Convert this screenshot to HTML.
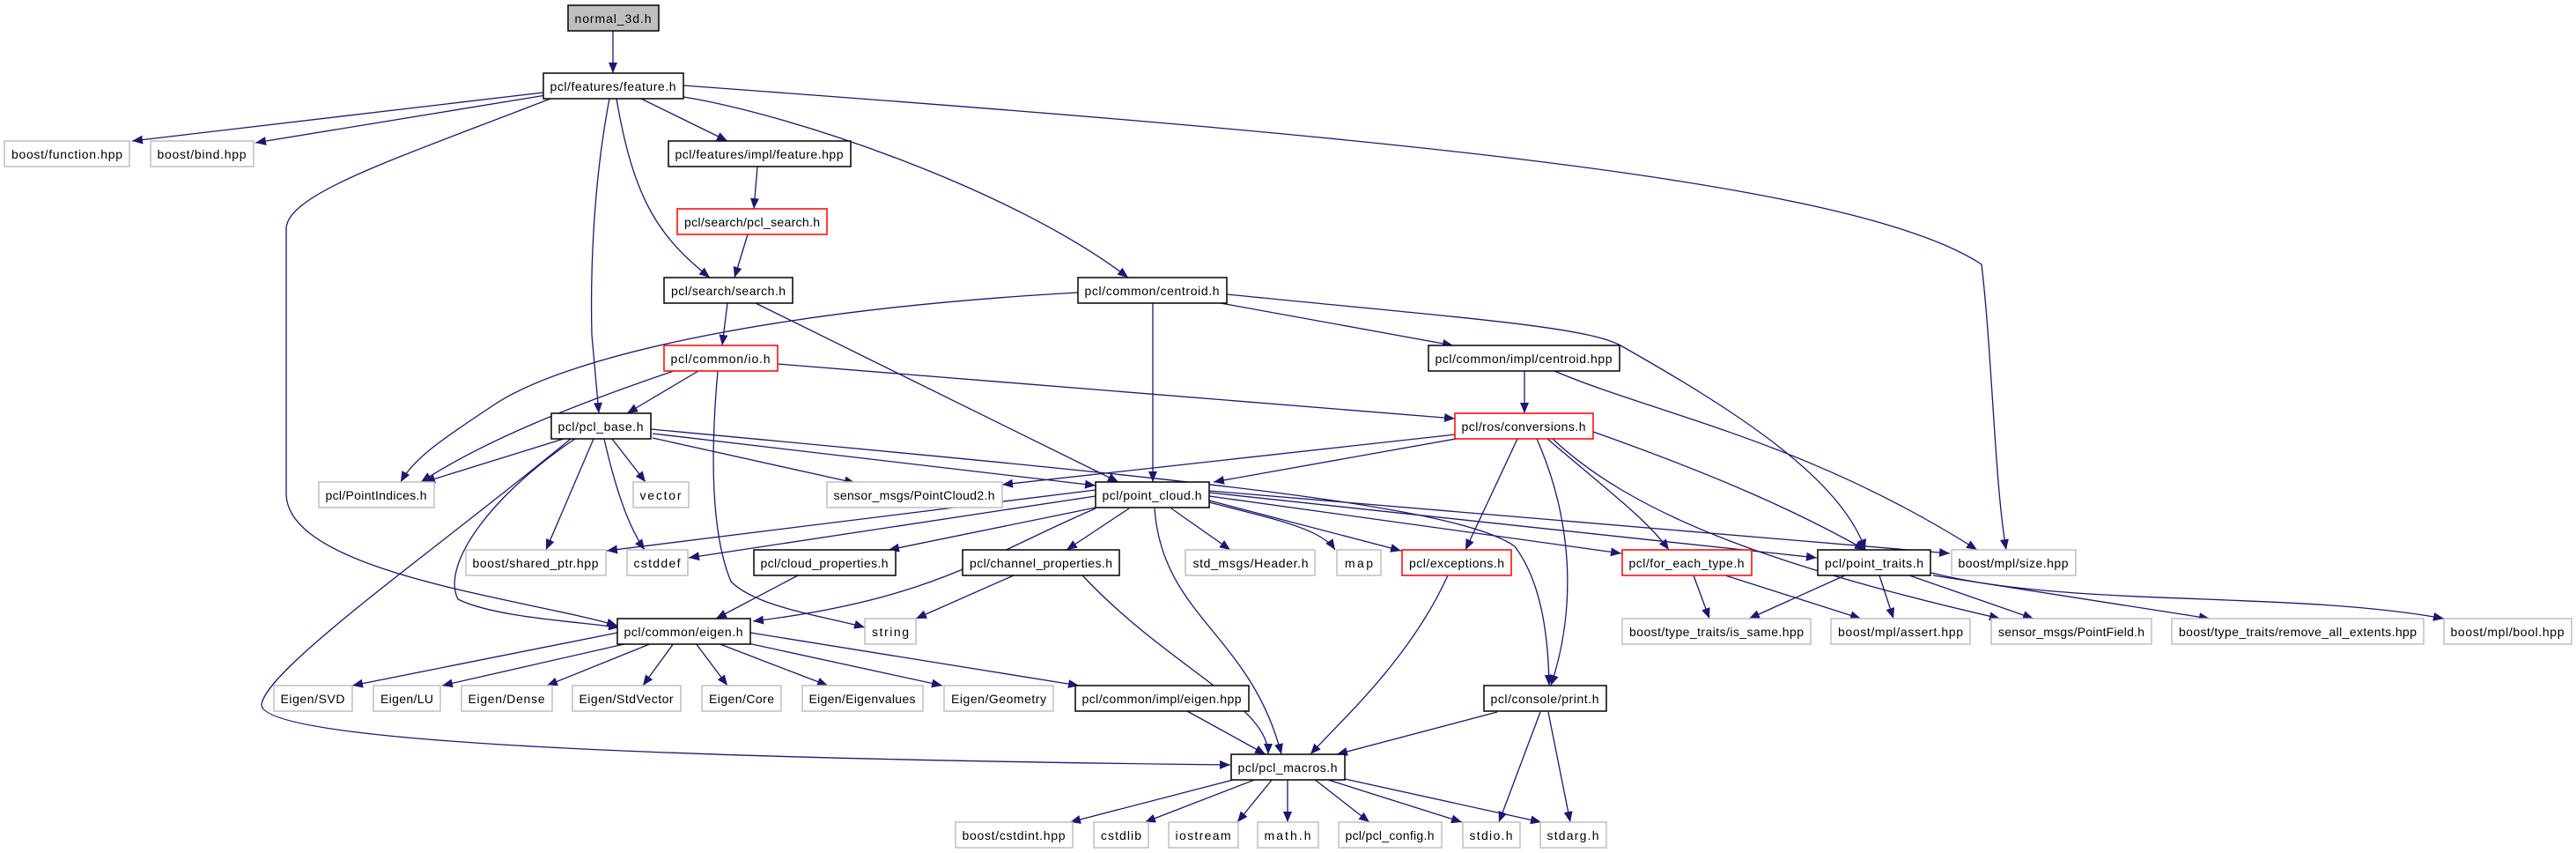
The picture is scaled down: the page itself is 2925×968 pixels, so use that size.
<!DOCTYPE html>
<html><head><meta charset="utf-8"><style>
html,body{margin:0;padding:0;background:#fff;}
svg{display:block;}
text{font-family:"Liberation Sans",sans-serif;font-size:14px;fill:#000;text-anchor:middle;}
.b{fill:#fff;stroke:#000;stroke-width:1.5}
.g{fill:#fff;stroke:#bfbfbf;stroke-width:1.5}
.r{fill:#fff;stroke:#ff0000;stroke-width:1.5}
.e{fill:none;stroke:#191970;stroke-width:1.3;marker-end:url(#a)}
</style></head><body>
<svg width="2925" height="968" viewBox="0 0 2925 968" xmlns="http://www.w3.org/2000/svg">
<defs><marker id="a" markerUnits="userSpaceOnUse" markerWidth="14" markerHeight="12" refX="12" refY="5" orient="auto"><path d="M0,0 L12,5 L0,10 z" fill="#191970"/></marker></defs>
<g>
<path class="e" d="M696 35 L696 83"/>
<path class="e" d="M617 105 L150 160"/>
<path class="e" d="M620 108 L290 162"/>
<path class="e" d="M625 112 C450 180,325 220,325 260 L325 560 C325 650,600 680,701 710"/>
<path class="e" d="M692 112 C675 200,670 300,672 380 L680 469"/>
<path class="e" d="M700 112 C720 230,750 270,806 315"/>
<path class="e" d="M728 112 L826 160"/>
<path class="e" d="M776 110 C900 130,1150 215,1281 315"/>
<path class="e" d="M776 97 C1500 150,2100 200,2250 300 C2262 400,2265 550,2278 624"/>
<path class="e" d="M860 189 L856 237"/>
<path class="e" d="M849 266 L834 315"/>
<path class="e" d="M826 344 L820 392"/>
<path class="e" d="M858 344 L1270 547"/>
<path class="e" d="M1224 332 C900 350,650 400,560 460 C500 500,470 520,455 547"/>
<path class="e" d="M1309 344 L1309 547"/>
<path class="e" d="M1386 344 L1650 392"/>
<path class="e" d="M1393 334 C1650 360,1800 370,1840 392 C1960 460,2090 540,2118 624"/>
<path class="e" d="M765 421 C650 460,550 500,478 547"/>
<path class="e" d="M793 421 L712 469"/>
<path class="e" d="M815 421 C808 500,805 600,830 660 C860 690,940 700,982 712"/>
<path class="e" d="M883 413 L1652 475"/>
<path class="e" d="M1731 421 L1731 469"/>
<path class="e" d="M1765 421 C1880 470,2050 500,2245 624"/>
<path class="e" d="M640 498 L482 547"/>
<path class="e" d="M695 498 L733 547"/>
<path class="e" d="M686 498 C700 560,715 600,732 624"/>
<path class="e" d="M674 498 L620 624"/>
<path class="e" d="M653 498 C560 560,500 640,520 680 C560 700,650 705,703 712"/>
<path class="e" d="M648 498 C500 620,300 760,297 800 C300 840,700 860,1397 868"/>
<path class="e" d="M741 497 L971 548"/>
<path class="e" d="M741 492 L1244 551"/>
<path class="e" d="M739 487 C1300 540,1650 570,1720 620 C1750 660,1758 720,1759 778"/>
<path class="e" d="M1653 493 L1138 550"/>
<path class="e" d="M1653 498 L1378 547"/>
<path class="e" d="M1723 498 L1664 624"/>
<path class="e" d="M1745 498 C1790 600,1787 700,1761 778"/>
<path class="e" d="M1757 498 C1830 560,1870 590,1895 624"/>
<path class="e" d="M1763 498 C1850 580,2000 640,2271 702"/>
<path class="e" d="M1809 490 C1950 540,2040 580,2118 624"/>
<path class="e" d="M1244 556 L689 625"/>
<path class="e" d="M1244 563 L782 633"/>
<path class="e" d="M1244 576 L1009 624"/>
<path class="e" d="M1244 577 C1120 630,1060 680,855 705"/>
<path class="e" d="M1282 577 L1211 624"/>
<path class="e" d="M1330 577 L1397 624"/>
<path class="e" d="M1311 577 C1320 700,1420 720,1455 856"/>
<path class="e" d="M1229 653 C1330 760,1440 800,1440 856"/>
<path class="e" d="M1373 570 C1450 590,1500 600,1516 624"/>
<path class="e" d="M1373 568 L1591 625"/>
<path class="e" d="M1373 563 L1841 628"/>
<path class="e" d="M1373 559 L2063 633"/>
<path class="e" d="M1373 557 L2214 628"/>
<path class="e" d="M906 653 L813 702"/>
<path class="e" d="M1151 653 L1040 702"/>
<path class="e" d="M701 718 L400 778"/>
<path class="e" d="M713 730 L502 778"/>
<path class="e" d="M740 730 L621 778"/>
<path class="e" d="M765 730 L730 778"/>
<path class="e" d="M790 730 L826 778"/>
<path class="e" d="M815 730 L940 778"/>
<path class="e" d="M840 728 L1070 778"/>
<path class="e" d="M852 718 L1225 778"/>
<path class="e" d="M1348 807 L1437 856"/>
<path class="e" d="M1644 653 C1600 750,1520 820,1488 856"/>
<path class="e" d="M1700 808 L1518 856"/>
<path class="e" d="M1749 808 L1702 933"/>
<path class="e" d="M1758 808 L1783 933"/>
<path class="e" d="M1923 653 L1941 702"/>
<path class="e" d="M1959 653 L2113 702"/>
<path class="e" d="M2095 653 L1986 702"/>
<path class="e" d="M2134 653 L2150 702"/>
<path class="e" d="M2168 653 L2309 702"/>
<path class="e" d="M2195 653 L2509 702"/>
<path class="e" d="M2193 650 C2350 690,2600 670,2775 702"/>
<path class="e" d="M1404 884 L1215 933"/>
<path class="e" d="M1427 884 L1300 933"/>
<path class="e" d="M1445 884 L1405 933"/>
<path class="e" d="M1462 884 L1462 933"/>
<path class="e" d="M1492 884 L1555 933"/>
<path class="e" d="M1505 884 L1660 933"/>
<path class="e" d="M1527 884 L1750 933"/>
</g>
<g>
<rect x="645" y="6" width="103" height="29" fill="#bfbfbf" stroke="#000" stroke-width="1.5"/><text x="696" y="26" textLength="87">normal_3d.h</text>
<rect class="b" x="617" y="83" width="159" height="29"/><text x="696" y="103" textLength="143">pcl/features/feature.h</text>
<rect class="g" x="5" y="160" width="142" height="29"/><text x="76" y="180" textLength="126">boost/function.hpp</text>
<rect class="g" x="171" y="160" width="117" height="29"/><text x="229" y="180" textLength="101">boost/bind.hpp</text>
<rect class="b" x="759" y="160" width="207" height="29"/><text x="862" y="180" textLength="191">pcl/features/impl/feature.hpp</text>
<rect class="r" x="769" y="237" width="170" height="29"/><text x="854" y="257" textLength="154">pcl/search/pcl_search.h</text>
<rect class="b" x="754" y="315" width="146" height="29"/><text x="827" y="335" textLength="130">pcl/search/search.h</text>
<rect class="b" x="1224" y="315" width="169" height="29"/><text x="1308" y="335" textLength="153">pcl/common/centroid.h</text>
<rect class="r" x="754" y="392" width="129" height="29"/><text x="818" y="412" textLength="113">pcl/common/io.h</text>
<rect class="b" x="1622" y="392" width="217" height="29"/><text x="1730" y="412" textLength="201">pcl/common/impl/centroid.hpp</text>
<rect class="b" x="626" y="469" width="113" height="29"/><text x="682" y="489" textLength="97">pcl/pcl_base.h</text>
<rect class="r" x="1652" y="469" width="157" height="29"/><text x="1730" y="489" textLength="141">pcl/ros/conversions.h</text>
<rect class="g" x="362" y="547" width="131" height="29"/><text x="427" y="567" textLength="115">pcl/PointIndices.h</text>
<rect class="g" x="719" y="547" width="63" height="29"/><text x="750" y="567" textLength="47">vector</text>
<rect class="g" x="939" y="547" width="199" height="29"/><text x="1038" y="567" textLength="183">sensor_msgs/PointCloud2.h</text>
<rect class="b" x="1244" y="547" width="129" height="29"/><text x="1308" y="567" textLength="113">pcl/point_cloud.h</text>
<rect class="g" x="529" y="624" width="159" height="29"/><text x="608" y="644" textLength="143">boost/shared_ptr.hpp</text>
<rect class="g" x="712" y="624" width="69" height="29"/><text x="746" y="644" textLength="53">cstddef</text>
<rect class="b" x="856" y="624" width="161" height="29"/><text x="936" y="644" textLength="145">pcl/cloud_properties.h</text>
<rect class="b" x="1093" y="624" width="178" height="29"/><text x="1182" y="644" textLength="162">pcl/channel_properties.h</text>
<rect class="g" x="1346" y="624" width="147" height="29"/><text x="1420" y="644" textLength="131">std_msgs/Header.h</text>
<rect class="g" x="1518" y="624" width="50" height="29"/><text x="1543" y="644" textLength="32">map</text>
<rect class="r" x="1592" y="624" width="124" height="29"/><text x="1654" y="644" textLength="108">pcl/exceptions.h</text>
<rect class="r" x="1842" y="624" width="147" height="29"/><text x="1915" y="644" textLength="131">pcl/for_each_type.h</text>
<rect class="b" x="2064" y="624" width="128" height="29"/><text x="2128" y="644" textLength="112">pcl/point_traits.h</text>
<rect class="g" x="2216" y="624" width="141" height="29"/><text x="2286" y="644" textLength="125">boost/mpl/size.hpp</text>
<rect class="b" x="701" y="702" width="151" height="29"/><text x="776" y="722" textLength="135">pcl/common/eigen.h</text>
<rect class="g" x="982" y="702" width="58" height="29"/><text x="1011" y="722" textLength="42">string</text>
<rect class="g" x="1842" y="702" width="214" height="29"/><text x="1949" y="722" textLength="198">boost/type_traits/is_same.hpp</text>
<rect class="g" x="2079" y="702" width="158" height="29"/><text x="2158" y="722" textLength="142">boost/mpl/assert.hpp</text>
<rect class="g" x="2261" y="702" width="182" height="29"/><text x="2352" y="722" textLength="166">sensor_msgs/PointField.h</text>
<rect class="g" x="2466" y="702" width="286" height="29"/><text x="2609" y="722" textLength="270">boost/type_traits/remove_all_extents.hpp</text>
<rect class="g" x="2775" y="702" width="145" height="29"/><text x="2847" y="722" textLength="129">boost/mpl/bool.hpp</text>
<rect class="g" x="311" y="778" width="89" height="29"/><text x="355" y="798" textLength="73">Eigen/SVD</text>
<rect class="g" x="424" y="778" width="76" height="29"/><text x="462" y="798" textLength="60">Eigen/LU</text>
<rect class="g" x="524" y="778" width="103" height="29"/><text x="575" y="798" textLength="87">Eigen/Dense</text>
<rect class="g" x="650" y="778" width="123" height="29"/><text x="711" y="798" textLength="107">Eigen/StdVector</text>
<rect class="g" x="797" y="778" width="90" height="29"/><text x="842" y="798" textLength="74">Eigen/Core</text>
<rect class="g" x="911" y="778" width="137" height="29"/><text x="979" y="798" textLength="121">Eigen/Eigenvalues</text>
<rect class="g" x="1072" y="778" width="124" height="29"/><text x="1134" y="798" textLength="108">Eigen/Geometry</text>
<rect class="b" x="1221" y="778" width="197" height="29"/><text x="1319" y="798" textLength="181">pcl/common/impl/eigen.hpp</text>
<rect class="b" x="1685" y="778" width="139" height="29"/><text x="1754" y="798" textLength="123">pcl/console/print.h</text>
<rect class="b" x="1398" y="856" width="129" height="29"/><text x="1462" y="876" textLength="113">pcl/pcl_macros.h</text>
<rect class="g" x="1085" y="933" width="133" height="29"/><text x="1151" y="953" textLength="117">boost/cstdint.hpp</text>
<rect class="g" x="1242" y="933" width="62" height="29"/><text x="1273" y="953" textLength="46">cstdlib</text>
<rect class="g" x="1327" y="933" width="79" height="29"/><text x="1366" y="953" textLength="63">iostream</text>
<rect class="g" x="1428" y="933" width="69" height="29"/><text x="1462" y="953" textLength="53">math.h</text>
<rect class="g" x="1520" y="933" width="117" height="29"/><text x="1578" y="953" textLength="101">pcl/pcl_config.h</text>
<rect class="g" x="1661" y="933" width="65" height="29"/><text x="1693" y="953" textLength="49">stdio.h</text>
<rect class="g" x="1749" y="933" width="75" height="29"/><text x="1786" y="953" textLength="59">stdarg.h</text>
</g>
</svg>
</body></html>
